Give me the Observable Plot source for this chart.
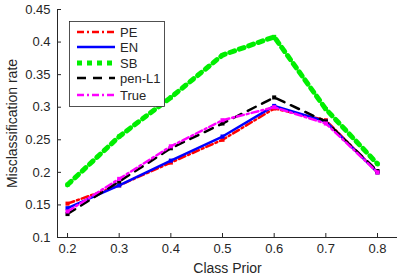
<!DOCTYPE html>
<html><head><meta charset="utf-8">
<script src="https://cdn.jsdelivr.net/npm/d3@7"></script>
<script src="https://cdn.jsdelivr.net/npm/@observablehq/plot@0.6"></script>
<style>
body{margin:0;background:#fff;font-family:"Liberation Sans",Arial,sans-serif;}
#wrap{position:relative;width:399px;height:279px;}
#legend{position:absolute;left:0;top:0;}
</style></head>
<body><div id="wrap"></div>
<script>
const priors = [0.2, 0.3, 0.4, 0.5, 0.6, 0.7, 0.8];
const PE    = [0.152, 0.180, 0.215, 0.250, 0.298, 0.280, 0.200];
const EN    = [0.145, 0.180, 0.218, 0.255, 0.302, 0.278, 0.200];
const SB    = [0.181, 0.255, 0.315, 0.380, 0.408, 0.297, 0.213];
const penL1 = [0.136, 0.186, 0.237, 0.275, 0.315, 0.278, 0.202];
const TrueS = [0.140, 0.190, 0.240, 0.280, 0.300, 0.275, 0.200];
const xTicks = [0.2, 0.3, 0.4, 0.5, 0.6, 0.7, 0.8];
const yTicks = [0.1, 0.15, 0.2, 0.25, 0.3, 0.35, 0.4, 0.45];

const series = [
  {name: "PE", vals: PE, color: "#ff0000", width: 2.5, dash: "7,3,2,3"},
  {name: "EN", vals: EN, color: "#0000ff", width: 2.5, dash: null},
  {name: "SB", vals: SB, color: "#00ee00", width: 5, dash: "5,5"},
  {name: "pen-L1", vals: penL1, color: "#000000", width: 2.5, dash: "9,7"},
  {name: "True", vals: TrueS, color: "#ff00ff", width: 2.5, dash: "7,3,2,3"}
];

const marks = [];
for (const s of series) {
  const data = priors.map((p, i) => ({x: p, y: s.vals[i]}));
  marks.push(Plot.line(data, {x: "x", y: "y", stroke: s.color, strokeWidth: s.width, strokeDasharray: s.dash}));
  marks.push(Plot.dot(data, {x: "x", y: "y", symbol: "square", r: 2.3, fill: s.color, stroke: "none"}));
}

const chart = Plot.plot({
  width: 399, height: 279,
  marginLeft: 57, marginTop: 9, marginBottom: 42, marginRight: 2,
  style: {fontFamily: '"Liberation Sans", Arial, sans-serif', fontSize: "13px", color: "#262626", background: "#fff"},
  x: {domain: [0.1806, 0.8387], ticks: xTicks, tickFormat: d => String(d)},
  y: {domain: [0.1, 0.45], ticks: yTicks, tickFormat: d => String(d)},
  marks: [
    Plot.axisX({ticks: xTicks, tickFormat: d => String(d), tickSize: -4, tickPadding: 10, label: null, fontSize: 13}),
    Plot.axisY({ticks: yTicks, tickFormat: d => String(d), tickSize: -4, tickPadding: 11, label: null, fontSize: 13}),
    Plot.ruleY([0.1], {stroke: "#262626", strokeWidth: 1}),
    Plot.ruleX([0.1806], {stroke: "#262626", strokeWidth: 1}),
    ...marks,
    Plot.text(["Class Prior"], {frameAnchor: "bottom", dy: 35, fontSize: 14, fill: "#262626"}),
    Plot.text(["Misclassification rate"], {frameAnchor: "left", dx: -45, rotate: -90, textAnchor: "middle", fontSize: 14, fill: "#262626"})
  ]
});
document.getElementById("wrap").appendChild(chart);

// legend overlay
const lg = d3.select("#wrap").append("svg").attr("id", "legend").attr("width", 399).attr("height", 279);
lg.append("rect").attr("x", 69.5).attr("y", 21.5).attr("width", 95).attr("height", 85)
  .attr("fill", "#fff").attr("stroke", "#262626").attr("stroke-width", 0.8);
const ys = [32, 47, 63, 78, 95];
series.forEach((s, i) => {
  lg.append("line").attr("x1", 77).attr("x2", 115).attr("y1", ys[i]).attr("y2", ys[i])
    .attr("stroke", s.color).attr("stroke-width", s.width).attr("stroke-dasharray", s.dash);
  lg.append("text").attr("x", 120).attr("y", ys[i]).attr("dy", "0.35em")
    .attr("font-size", 13).attr("fill", "#262626").attr("font-family", '"Liberation Sans", Arial, sans-serif').text(s.name);
});
</script></body></html>
